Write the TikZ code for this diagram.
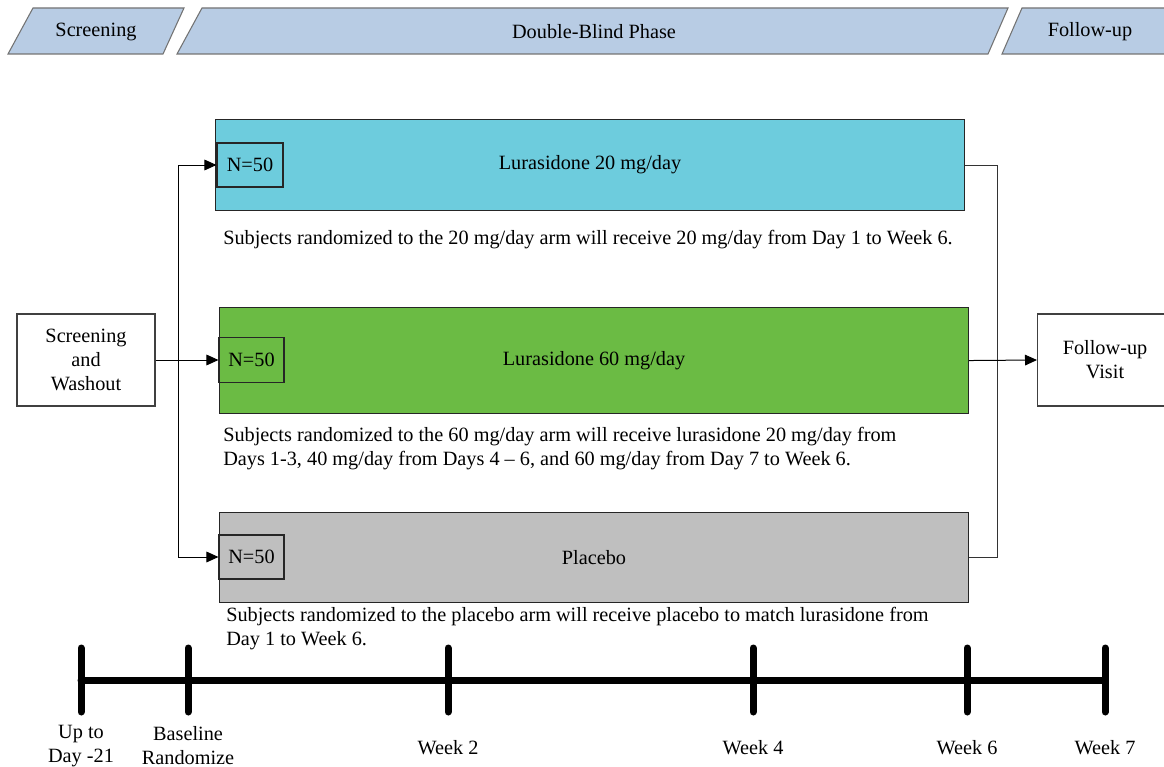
\documentclass[tikz,border=0pt]{standalone}
\usepackage{fontspec}
\setmainfont{Liberation Serif}
\usetikzlibrary{arrows.meta,positioning}
\definecolor{phaseblue}{HTML}{B8CCE4}
\definecolor{armcyan}{HTML}{6DCCDD}
\definecolor{armgreen}{HTML}{6BBB44}
\definecolor{armgray}{HTML}{BFBFBF}
\tikzset{
  every node/.style={font=\fontsize{15.2pt}{18pt}\selectfont, inner sep=0pt},
  phase/.style={draw=black!55, line width=0.8pt, fill=phaseblue},
  arm/.style={draw=black!85, line width=0.8pt, minimum width=561.75pt, anchor=north west},
  nbox/.style={draw=black!85, line width=0.8pt, minimum width=49.5pt, minimum height=33pt},
  plainbox/.style={draw=black!75, line width=0.8pt, align=center},
  note/.style={align=left, anchor=west},
  flow/.style={-{Triangle[length=9pt, width=8pt]}, line width=0.75pt, draw=black},
  link/.style={line width=0.75pt, draw=black!80},
  axis/.style={line width=5.25pt, line cap=round}
}
\begin{document}
\begin{tikzpicture}[x=0.75pt, y=-0.75pt]
  \useasboundingbox (0,0) rectangle (1164,767);
  \clip (0,0) rectangle (1164,767);

  % phase banners
  \draw[phase] (8,54) -- (33,8) -- (184,8) -- (163,54) -- cycle;
  \node (pscr) at (96,32) {Screening};
  \draw[phase] (177,54) -- (202,8) -- (1008,8) -- (988,54) -- cycle;
  \node (pdb) at (594,32) {Double-Blind Phase};
  \draw[phase] (1002,54) -- (1022,8) -- (1190,8) -- (1170,54) -- cycle;
  \node (pfu) at (1090,32) {Follow-up};

  % treatment arms
  \node[arm, fill=armcyan, minimum height=68.25pt] (a20) at (215,119) {Lurasidone 20 mg/day};
  \node[nbox] (n20) at (250,165) {N=50};
  \node[note] (t20) at (223,240) {Subjects randomized to the 20 mg/day arm will receive 20 mg/day from Day 1 to Week 6.};

  \node[arm, fill=armgreen, minimum height=79.5pt] (a60) at (219,307) {Lurasidone 60 mg/day};
  \node[nbox, minimum width=48.75pt, minimum height=33.75pt] (n60) at (251.5,360) {N=50};
  \node[note] (t60) at (223,449) {Subjects randomized to the 60 mg/day arm will receive lurasidone 20 mg/day from\\Days 1-3, 40 mg/day from Days 4 -- 6, and 60 mg/day from Day 7 to Week 6.};

  \node[arm, fill=armgray, minimum height=67.5pt] (pla) at (219,512) {Placebo};
  \node[nbox, minimum width=48.75pt] (npl) at (251.5,557) {N=50};
  \node[note] (tpl) at (226,629) {Subjects randomized to the placebo arm will receive placebo to match lurasidone from\\Day 1 to Week 6.};

  % screening and follow-up
  \node[plainbox, minimum width=103.5pt, minimum height=69pt] (scr) at (86,360) {Screening\\and\\Washout};
  \node[plainbox, minimum width=101.25pt, minimum height=69pt, anchor=west] (fu) at (1037,360) {Follow-up\\Visit};

  % connectors
  \coordinate (split) at (178,360);
  \coordinate (join) at (997,360);
  \draw[flow] (scr.east) -- (n60.west);
  \draw[flow] (split) |- (n20.west);
  \draw[flow] (split) |- (npl.west);
  \draw[link] (a20.east) -| (join);
  \draw[link] (pla.east) -| (join);
  \draw[flow] (a60.east) -- (fu.west);

  % timeline
  \draw[axis] (81,680) -- (1105,680);
  \foreach \x/\name in {81/d0, 188/d1, 448/w2, 753/w4, 967/w6, 1105/w7}
    \draw[axis] (\x,648) coordinate (\name) -- (\x,712);
  \node[align=center] (ld0) at (81,746) {Up to\\Day -21};
  \node[align=center] (ld1) at (188,746) {Baseline\\Randomize};
  \node (lw2) at (448,748) {Week 2};
  \node (lw4) at (753,748) {Week 4};
  \node (lw6) at (967,748) {Week 6};
  \node (lw7) at (1105,748) {Week 7};
\end{tikzpicture}
\end{document}
